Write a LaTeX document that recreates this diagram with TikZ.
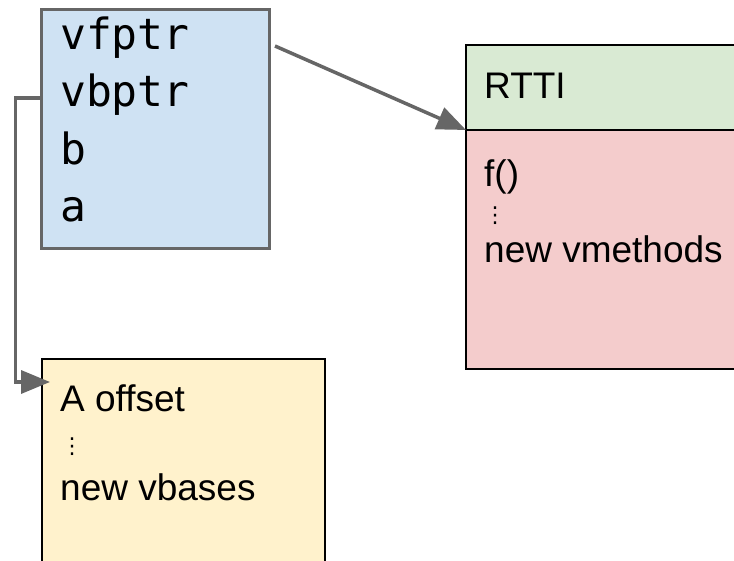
\documentclass[tikz,border=0pt]{standalone}
\usepackage{fontspec}
\usetikzlibrary{arrows.meta}
\newfontfamily\arialf{Liberation Sans}
\newfontfamily\monof{DejaVu Sans Mono}
\newfontfamily\dejaf{DejaVu Sans}
\definecolor{cblue}{HTML}{CFE2F3}
\definecolor{cgreen}{HTML}{D9EAD3}
\definecolor{cpink}{HTML}{F4CCCC}
\definecolor{cyellow}{HTML}{FFF2CC}
\definecolor{cline}{HTML}{666666}
\tikzset{
  box/.style={rectangle, draw=black, line width=1.5pt, inner sep=0pt, outer sep=0pt, anchor=north west},
  monotext/.style={anchor=base west, inner sep=0pt, font=\monof\fontsize{43}{43}\selectfont},
  sanstext/.style={anchor=base west, inner sep=0pt, font=\arialf\fontsize{37}{37}\selectfont},
  dotstext/.style={anchor=base west, inner sep=0pt, font=\dejaf\fontsize{22}{22}\selectfont},
  conn/.style={draw=cline, line width=3.5pt, -{Triangle[length=29pt,width=23pt]}}
}
\begin{document}
\begin{tikzpicture}[x=1pt,y=-1pt]
\useasboundingbox (0,0) rectangle (734,561);
\clip (0,0) rectangle (734,561);
% boxes
\node[box, fill=cblue, draw=cline, line width=3pt, minimum width=228pt, minimum height=239pt] (blue) at (41.5,9.5) {};
\node[box, fill=cgreen, minimum width=290pt, minimum height=85pt] (green) at (466,45) {};
\node[box, fill=cpink, minimum width=290pt, minimum height=239pt] (pink) at (466,130) {};
\node[box, fill=cyellow, minimum width=283pt, minimum height=230pt] (yellow) at (42,359) {};
% blue text
\node[monotext] (t1) at (60,50) {vfptr};
\node[monotext] (t2) at (60,107) {vbptr};
\node[monotext] (t3) at (60,165) {b};
\node[monotext] (t4) at (60,222) {a};
% green / pink text
\node[sanstext] (rtti) at (484,99) {RTTI};
\node[sanstext] (f) at (484,187) {f()};
\node[dotstext] (d1) at (484,223) {⋮};
\node[sanstext] (vm) at (484,263) {new vmethods};
% yellow text
\node[sanstext] (ao) at (60,412) {A offset};
\node[dotstext] (d2) at (61,453) {⋮};
\node[sanstext] (vb) at (60,500) {new vbases};
% connectors
\coordinate (s1) at ([xshift=5.5pt,yshift=-36.5pt]blue.north east);
\draw[conn] (s1) -- (green.south west);
\coordinate (s2) at ([yshift=-88.5pt]blue.north west);
\coordinate (e2) at ([xshift=8pt,yshift=-23pt]yellow.north west);
\draw[conn] (s2) -- ++(-26,0) |- (e2);
\end{tikzpicture}
\end{document}
